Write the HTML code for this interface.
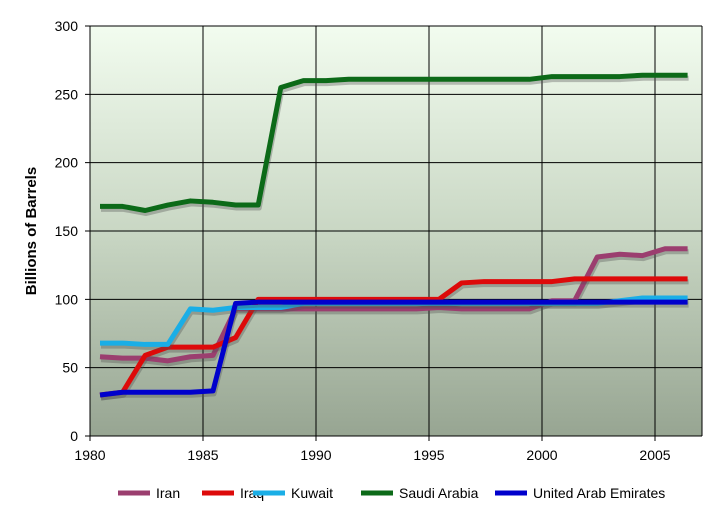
<!DOCTYPE html>
<html><head><meta charset="utf-8"><style>
body{margin:0;background:#fff;font-family:"Liberation Sans",sans-serif}
</style></head><body>
<svg id="c" width="714" height="511" xmlns="http://www.w3.org/2000/svg">
<defs><linearGradient id="bg" x1="0" y1="0" x2="0" y2="1">
<stop offset="0" stop-color="#f2fcef"/><stop offset="0.5" stop-color="#c9d7c4"/><stop offset="1" stop-color="#97a592"/></linearGradient></defs>
<rect x="90" y="26" width="612" height="410" fill="url(#bg)"/>
<g id="grid"></g><g id="series"></g><g id="axes"></g><g id="legend"></g>
<text transform="translate(36,231) rotate(-90)" text-anchor="middle" font-size="15" font-weight="bold">Billions of Barrels</text>
</svg>
<script>
const years=[1980,1981,1982,1983,1984,1985,1986,1987,1988,1989,1990,1991,1992,1993,1994,1995,1996,1997,1998,1999,2000,2001,2002,2003,2004,2005,2006];
const yTicks=[0,50,100,150,200,250,300];
const xTicks=[1980,1985,1990,1995,2000,2005];
const seriesNames=["Iran","Iraq","Kuwait","Saudi Arabia","United Arab Emirates"];
const iran=[58,57,57,55,58,59,93,93,93,93,93,93,93,93,93,94,93,93,93,93,99,99,131,133,132,137,137];
const iraq=[30,32,59,65,65,65,72,100,100,100,100,100,100,100,100,100,112,113,113,113,113,115,115,115,115,115,115];
const kuwait=[68,68,67,67,93,92,94,94,94,97,97,97,97,97,97,97,97,97,97,97,97,97,97,99,101,101,101];
const saudi=[168,168,165,169,172,171,169,169,255,260,260,261,261,261,261,261,261,261,261,261,263,263,263,263,264,264,264];
const uae=[30,32,32,32,32,33,97,98,98,98,98,98,98,98,98,98,98,98,98,98,98,98,98,98,98,98,98];
const colors=["#9b3e6f","#dd0a0a","#1aaee6","#0c6a18","#0000cc"];
const NS="http://www.w3.org/2000/svg";
const L=90,R=702,T=26,B=436;
const x=i=>L+10+22.6*i;
const xYear=yr=>L+(yr-1980)*22.6;
const y=v=>B-(v/300)*(B-T);
function mk(tag,attrs,parent){const e=document.createElementNS(NS,tag);for(const k in attrs)e.setAttribute(k,attrs[k]);parent.appendChild(e);return e;}
const grid=document.getElementById('grid'),axes=document.getElementById('axes'),ser=document.getElementById('series'),leg=document.getElementById('legend');
yTicks.forEach(v=>{
 const l=mk('line',{x1:L-5,x2:R,y1:y(v),y2:y(v),stroke:'#000','stroke-width':1},grid);
 
 
 const t=mk('text',{x:L-12,y:y(v)+5,'text-anchor':'end','font-size':14},axes);t.textContent=v;
 
 
});
xTicks.forEach(yr=>{
 const l=mk('line',{x1:xYear(yr),x2:xYear(yr),y1:T,y2:B+5,stroke:'#000','stroke-width':1},grid);
 
 
 const t=mk('text',{x:xYear(yr),y:B+24,'text-anchor':'middle','font-size':14},axes);t.textContent=yr;
 
 
});
mk('line',{x1:R,x2:R,y1:T,y2:B,stroke:'#000'},grid);
[iran,iraq,kuwait,saudi,uae].forEach((d,si)=>{
 const pts=d.map((v,i)=>x(i)+','+y(v)).join(' ');
 const s=mk('polyline',{points:pts.split(' ').map(p=>{const [a,b]=p.split(',');return (+a+1)+','+(+b+3);}).join(' '),fill:'none',stroke:'rgba(80,80,80,0.35)','stroke-width':5,'stroke-linejoin':'round'},ser);
 
 
 const p=mk('polyline',{points:pts,fill:'none',stroke:colors[si],'stroke-width':5,'stroke-linejoin':'round'},ser);
 
 
});
const legX=[118,202,253,361,495];
seriesNames.forEach((n,i)=>{
 const g=mk('g',{},leg);
 
 
 mk('line',{x1:legX[i],x2:legX[i]+32,y1:493,y2:493,stroke:colors[i],'stroke-width':5},g);
 const t=mk('text',{x:legX[i]+38,y:498,'font-size':14},g);t.textContent=n;
});
</script>
</body></html>
